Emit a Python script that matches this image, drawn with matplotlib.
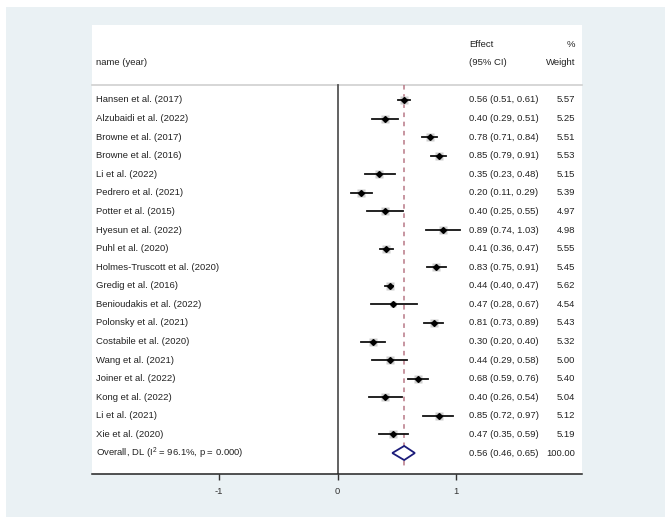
import matplotlib
matplotlib.use("Agg")
import matplotlib.pyplot as plt
from matplotlib.patches import Polygon, Rectangle

plt.rcParams['font.family'] = ['Liberation Sans', 'DejaVu Sans']
plt.rcParams['mathtext.default'] = 'regular'

# study data
names = ["Hansen et al. (2017)", "Alzubaidi et al. (2022)", "Browne et al. (2017)",
         "Browne et al. (2016)", "Li et al. (2022)", "Pedrero et al. (2021)",
         "Potter et al. (2015)", "Hyesun et al. (2022)", "Puhl et al. (2020)",
         "Holmes-Truscott et al. (2020)", "Gredig et al. (2016)",
         "Benioudakis et al. (2022)", "Polonsky et al. (2021)",
         "Costabile et al. (2020)", "Wang et al. (2021)", "Joiner et al. (2022)",
         "Kong et al. (2022)", "Li et al. (2021)", "Xie et al. (2020)"]
effect = [0.56, 0.40, 0.78, 0.85, 0.35, 0.20, 0.40, 0.89, 0.41, 0.83,
          0.44, 0.47, 0.81, 0.30, 0.44, 0.68, 0.40, 0.85, 0.47]
lower = [0.51, 0.29, 0.71, 0.79, 0.23, 0.11, 0.25, 0.74, 0.36, 0.75,
         0.40, 0.28, 0.73, 0.20, 0.29, 0.59, 0.26, 0.72, 0.35]
upper = [0.61, 0.51, 0.84, 0.91, 0.48, 0.29, 0.55, 1.03, 0.47, 0.91,
         0.47, 0.67, 0.89, 0.40, 0.58, 0.76, 0.54, 0.97, 0.59]
weight = [5.57, 5.25, 5.51, 5.53, 5.15, 5.39, 4.97, 4.98, 5.55, 5.45,
          5.62, 4.54, 5.43, 5.32, 5.00, 5.40, 5.04, 5.12, 5.19]

overall_label = "Overall, DL (I$^2$ = 96.1%, p = 0.000)"
overall = (0.56, 0.46, 0.65)
overall_weight = "100.00"
xticks = [-1, 0, 1]

W, H = 669, 522
fig = plt.figure(figsize=(W / 100, H / 100), dpi=100)
fig.patch.set_facecolor("white")
# light blue-gray graph region
fig.patches.append(Rectangle((6 / W, 1 - 517 / H), 659 / W, 510 / H,
                             transform=fig.transFigure, facecolor="#eaf1f4",
                             edgecolor="none", zorder=-10))

left, right, top, bottom = 92, 582, 24.5, 474
ax = fig.add_axes([left / W, 1 - bottom / H, (right - left) / W, (bottom - top) / H])
ax.set_facecolor("white")

px_per_unit = 118.7
x0 = 337.7
ax.set_xlim((left - x0) / px_per_unit, (right - x0) / px_per_unit)
row0, step = 100, 18.58
ax.set_ylim((bottom - row0) / step, (top - row0) / step)

for s in ["top", "left", "right"]:
    ax.spines[s].set_visible(False)
ax.spines["bottom"].set_linewidth(1.1)
ax.spines["bottom"].set_color("#222222")
ax.set_yticks([])
ax.set_xticks(xticks)
ax.set_xticklabels([str(t) for t in xticks])
ax.tick_params(axis="x", direction="out", length=4.5, width=1, labelsize=6.8,
               pad=5, colors="#333333")

txt = dict(fontsize=6.8, color="#222222", va="center")
tr = ax.get_yaxis_transform()
name_x = (96 - left) / (right - left)
eff_x = (469 - left) / (right - left)
wt_x = (575 - left) / (right - left)

# header
ax.text(name_x, -2, "name (year)", transform=tr, ha="left", **txt)
ax.text(eff_x, -3, "Effect", transform=tr, ha="left", **txt)
ax.text(eff_x, -2, "(95% CI)", transform=tr, ha="left", **txt)
ax.text(wt_x, -3, "%", transform=tr, ha="right", **txt)
ax.text(wt_x, -2, "Weight", transform=tr, ha="right", **txt)
ax.plot([0, 1], [-0.81, -0.81], transform=tr, color="#d0d0d0", lw=1.2, clip_on=False)

n = len(names)
ylim_bottom = (bottom - row0) / step
ax.plot([0, 0], [-0.81, ylim_bottom], color="#555555", lw=1.3)
ax.plot([overall[0], overall[0]], [-0.81, (466 - row0) / step], color="#b87886",
        lw=1.1, ls=(0, (3, 3)))

for i in range(n):
    ax.plot([lower[i], upper[i]], [i, i], color="#111111", lw=1.3, zorder=3)
    ax.plot(effect[i], i, marker="s", ms=2.3 * weight[i] ** 0.5,
            color="#cfcfcf", mec="none", zorder=2)
    ax.plot(effect[i], i, marker="D", ms=3.0, color="black", zorder=4)
    ax.text(name_x, i, names[i], transform=tr, ha="left", **txt)
    ax.text(eff_x, i, "%.2f (%.2f, %.2f)" % (effect[i], lower[i], upper[i]),
            transform=tr, ha="left", **txt)
    ax.text(wt_x, i, "%.2f" % weight[i], transform=tr, ha="right", **txt)

# pooled estimate
est, lo, hi = overall
h = 0.38
ax.add_patch(Polygon([(lo, n), (est, n - h), (hi, n), (est, n + h)], closed=True,
                     facecolor="white", edgecolor="#1c1c7a", lw=1.3, zorder=5))
ax.text(name_x, n, overall_label, transform=tr, ha="left", **txt)
ax.text(eff_x, n, "%.2f (%.2f, %.2f)" % overall, transform=tr, ha="left", **txt)
ax.text(wt_x, n, overall_weight, transform=tr, ha="right", **txt)

fig.savefig("out.png", dpi=100)
